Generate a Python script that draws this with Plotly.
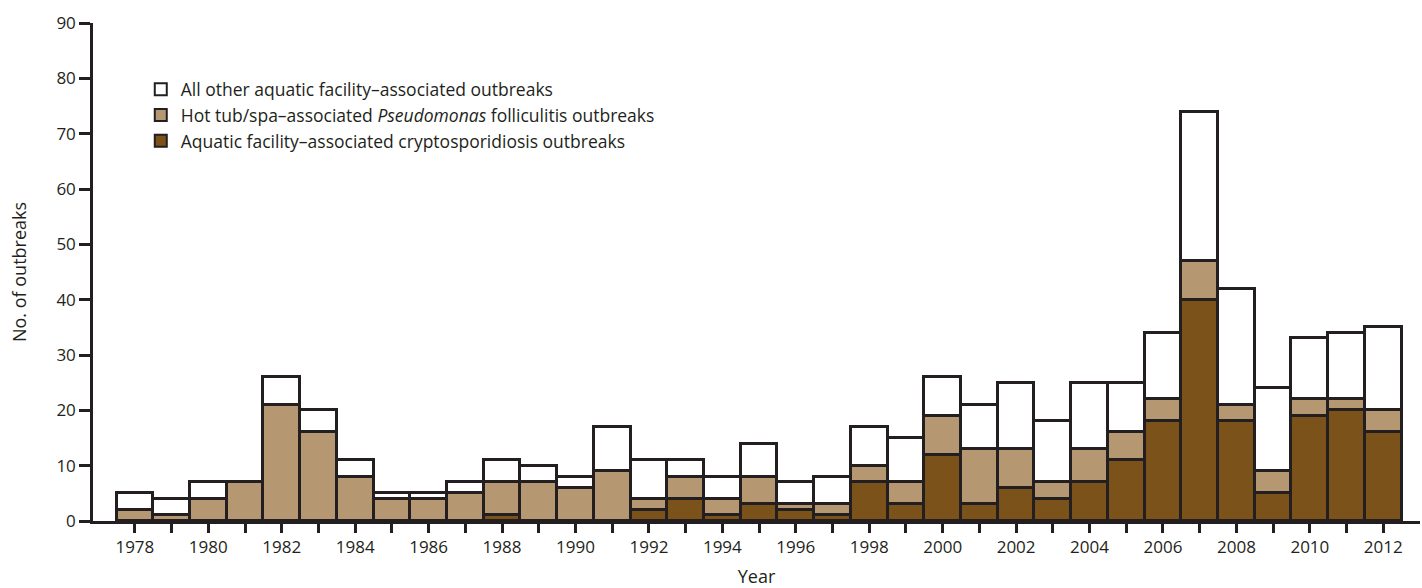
import plotly.graph_objects as go

years = list(range(1978, 2013))
# cumulative tops
total = [5, 4, 7, 7, 26, 20, 11, 5, 5, 7, 11, 10, 8, 17, 11, 11, 8, 14, 7, 8,
         17, 15, 26, 21, 25, 18, 25, 25, 34, 74, 42, 24, 33, 34, 35]
pseudo_top = [2, 1, 4, 7, 21, 16, 8, 4, 4, 5, 7, 7, 6, 9, 4, 8, 4, 8, 3, 3,
              10, 7, 19, 13, 13, 7, 13, 16, 22, 47, 21, 9, 22, 22, 20]
crypto = [0, 0, 0, 0, 0, 0, 0, 0, 0, 0, 1, 0, 0, 0, 2, 4, 1, 3, 2, 1,
          7, 3, 12, 3, 6, 4, 7, 11, 18, 40, 18, 5, 19, 20, 16]

pseudo = [p - c for p, c in zip(pseudo_top, crypto)]
other = [t - p for t, p in zip(total, pseudo_top)]

names = ["Aquatic facility\u2013associated cryptosporidiosis outbreaks",
         "Hot tub/spa\u2013associated <i>Pseudomonas</i> folliculitis outbreaks",
         "All other aquatic facility\u2013associated outbreaks"]
colors = ["#7B531A", "#B59871", "#FFFFFF"]
line_col = "#231F20"

fig = go.Figure()
for i, (vals, nm, col) in enumerate(zip([crypto, pseudo, other], names, colors)):
    fig.add_trace(go.Bar(x=years, y=vals, name=nm, width=1, legendgroup=f"g{i}",
                         marker=dict(color=col, line=dict(color=line_col, width=2.8))))

tickvals = years
ticktext = [str(y) if y % 2 == 0 else "" for y in years]

fig.update_layout(
    barmode="stack", bargap=0,
    width=1422, height=588,
    margin=dict(l=93, r=2, t=23, b=67),
    plot_bgcolor="white", paper_bgcolor="white",
    font=dict(family="Open Sans, sans-serif", size=16, color="#231F20"),
    legend=dict(x=0.036, y=0.903, xanchor="left", yanchor="top",
                traceorder="reversed", font=dict(size=17.5), tracegroupgap=5,
                bgcolor="rgba(0,0,0,0)", itemsizing="constant"),
    showlegend=True,
)
fig.update_xaxes(range=[1976.86, 2013.0], tickvals=tickvals, ticktext=ticktext,
                 ticks="outside", ticklen=9, tickwidth=2.5, tickcolor=line_col,
                 tickfont=dict(size=17),
                 showline=True, linecolor=line_col, linewidth=2.5,
                 showgrid=False, zeroline=False, automargin=False,
                 title=dict(text="Year", standoff=16, font=dict(size=18)))
fig.update_yaxes(range=[0, 90], dtick=10, ticks="outside", ticklen=11, tickwidth=2.5,
                 tickcolor=line_col, tickfont=dict(size=17),
                 showline=True, linecolor=line_col, linewidth=2.5,
                 showgrid=False, zeroline=False, automargin=False,
                 title=dict(text="No. of outbreaks", standoff=26, font=dict(size=18)))

fig.write_html("out.html", config={"displayModeBar": False},
               post_script="document.body.style.margin='0';")
